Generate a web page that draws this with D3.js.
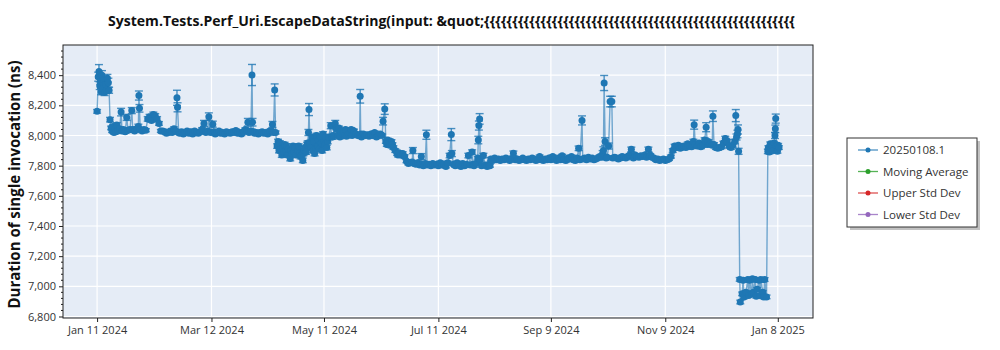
<!DOCTYPE html>
<html><head><meta charset="utf-8">
<script src="https://cdn.jsdelivr.net/npm/d3@7"></script>
<style>
body{margin:0;background:#fff;}
svg{display:block;font-family:"Open Sans","Noto Sans",sans-serif;}
</style>
</head><body>
<svg id="chart" width="1000" height="350"></svg>
<script>
// ---------- data ----------
const chartTitle = "System.Tests.Perf_Uri.EscapeDataString(input: &quot;";
const titleBraces = "{{{{{{{{{{{{{{{{{{{{{{{{{{{{{{{{{{{{{{{{{{{{{{{{{{{{{{{";
const yAxisTitle = "Duration of single invocation (ns)";
const seriesNames = ["20250108.1", "Moving Average", "Upper Std Dev", "Lower Std Dev"];
const seriesColors = ["#1f77b4", "#2ca02c", "#d62728", "#9467bd"];
const xTickDates = ["2024-01-11", "2024-03-12", "2024-05-11", "2024-07-11", "2024-09-09", "2024-11-09", "2025-01-08"];
const xTickLabels = ["Jan 11 2024", "Mar 12 2024", "May 11 2024", "Jul 11 2024", "Sep 9 2024", "Nov 9 2024", "Jan 8 2025"];
const yTickValues = [6800, 7000, 7200, 7400, 7600, 7800, 8000, 8200, 8400];
const startDate = "2024-01-11";

// days after startDate
const runDay = [
  0,0.6,1.0,1.4,1.8,2.2,2.6,3.0,3.5,4.0,4.5,5.0,5.5,6.0,6.4,6.9,
  7.5,8,8.5,9,9.5,10,10.5,11,12,12.8,13.3,14,15,15.8,16.5,17.5,18.5,19,20,21,22,22.3,22.6,23,24,25,26,27,28,29,30,31,32,33,34,
  35,36,37,38,39,40,41,42,42.6,42.9,43.5,44,45,46,47,48,49,50,51,52,53,54,55,56,57,58,59,59.6,60.5,61.7,62.5,
  63,64,65,66,67,68,69,70,71,72,73,74,75,76,77,78,79,80,80.4,81,82,82.6,82.9,
  83.5,84,85,86,87,88,89,90,91,92,93,93.5,94,94.7,95.2,
  96,96.5,97,97.5,98,98.5,99,99.5,100,100.5,101,101.5,102,103,103.5,104,104.5,105,105.5,106,
  107,107.5,108,108.5,109,109.7,110,110.5,111,111.5,112,112.3,112.7,113,
  113.5,114,114.5,115,115.5,116,116.5,117,117.5,118,118.5,119,119.5,120,120.5,121,121.5,122,122.5,123,
  123.5,124.6,125,125.5,126,127,
  127.5,128,128.5,129,129.5,130,131,131.5,132,132.5,133,134,135,135.5,136,137,138,139,
  140,140.3,140.6,141,142,143,144,145,146,147,148,149,150,151,152,152.5,153.4,
  154,154.5,155,155.5,156,157,157.5,158,159,160,160.5,161,162,163,164,
  165,166,167,168,168.4,169,170,171,172,172.9,173.5,174,175,175.6,176,177,178,179,180,181,
  182,183,184,185,186,187,188,188.9,189.2,190,191,192,193,194,195,196,197,198,199,200,
  200.5,201,202,203,203.3,203.6,204,204.3,205,206,207,208,209,209.5,
  210,211,212,213,214,215,216,217,218,219,220,221,222,223,224,225,226,227,228,229,
  230,231,232,233,234,235,236,237,238,239,240,241,242,243,244,245,246,247,248,249,
  250,251,252,253,254,255,256,256.8,257.5,258.6,259,260,261,262,263,264,265,266,267,268,
  269,269.6,270,270.4,270.9,271.5,272,272.8,273.6,274.5,275,276,277,278,279,280,281,282,283,284,
  284.9,285.5,286,287,288,289,290,291,292,293,294,294.5,295,296,297,298,299,300,301,302,
  303,304,305,306,
  307,308,309,310,311,312,313,314,315,316,317,318,318.4,319,320,321,322,323,324,324.8,
  325.5,326,327,328,328.4,329,330,331,332,333,334,335,335.5,336,337,338,339,340,340.6,341,
  341.5,341.8,342.1,
  342.7,343,344,344.5,345,346,347,347.5,348,349,349.5,350,351,351.5,352,353,353.5,354,355,355.5,
  356,357,
  357.7,358,358.5,359,359.5,360,360.5,361,361.5,361.7,361.9,362.3,362.8,363.2,363.6
];
// mean duration (ns)
const duration = [
  8160,8390,8425,8330,8360,8290,8400,8310,8370,8285,8340,8300,8380,8350,8300,8105,
  8050,8030,8060,8020,8040,8025,8070,8030,8045,8155,8030,8040,8025,8120,8035,8040,8165,8040,8030,8045,8060,8265,8180,8040,8030,8040,8035,8110,8125,8100,8140,8130,8110,8080,8030,
  8030,8025,8015,8020,8030,8020,8045,8030,8250,8187,8020,8015,8025,8010,8020,8030,8015,8025,8010,8030,8020,8015,8025,8040,8080,8020,8030,8125,8020,8075,8025,
  8010,8020,8030,8015,8020,8010,8025,8020,8015,8025,8020,8033,8015,8020,8010,8025,8040,8030,8088,8020,8030,8401,8088,
  8025,8015,8020,8010,8020,8025,8015,8020,8010,8030,8030,8073,8020,8302,8020,
  7930,7960,7900,7950,7910,7870,7920,7890,7940,7900,7930,7870,7910,7847,7900,7880,7930,7890,7920,7870,
  7900,7930,7880,7860,7870,7835,7880,7900,7920,7890,7940,7950,8020,8172,
  7950,7920,7990,7900,7960,7880,7920,8000,7930,7970,7910,7990,7950,7900,8010,7960,7940,7990,7920,7960,
  7990,8065,7990,7990,8000,8080,
  8050,8040,8000,8050,7990,8030,8010,8020,8000,8040,7995,8010,8020,8040,8000,8030,8010,8000,
  8000,8260,8010,7990,8010,8000,8005,7995,8010,8000,8020,7990,8000,8010,8000,8095,8175,
  7960,7940,7970,7950,7935,7960,7940,7920,7900,7880,7870,7885,7870,7880,7860,
  7830,7815,7820,7825,7900,7815,7810,7820,7805,7860,7810,7800,7815,8005,7805,7810,7800,7815,7805,7810,
  7800,7820,7805,7810,7795,7820,7867,8006,7880,7810,7800,7820,7805,7795,7815,7800,7810,7867,7805,7890,
  7810,7800,7815,7850,7970,8066,8110,7840,7800,7867,7805,7795,7810,7800,
  7845,7835,7850,7840,7845,7835,7845,7840,7850,7845,7835,7845,7882,7840,7845,7835,7840,7850,7840,7835,
  7845,7840,7850,7845,7835,7840,7860,7840,7835,7845,7840,7850,7840,7860,7845,7835,7850,7840,7865,7840,
  7835,7850,7845,7860,7840,7835,7850,7915,7840,8100,7845,7850,7840,7855,7845,7850,7840,7845,7850,7860,
  7855,7880,7900,8348,7960,7850,7855,7930,8225,8225,7850,7855,7850,7845,7850,7860,7855,7850,7860,7870,
  7908,7865,7850,7870,7860,7855,7865,7860,7870,7855,7908,7860,7870,7855,7850,7840,7845,7835,7840,7845,
  7835,7840,7845,7860,
  7900,7930,7920,7935,7915,7925,7930,7920,7945,7930,7925,7960,8072,7940,7930,7950,7925,7935,7970,8055,
  7940,7960,7945,7935,8128,7940,7920,7915,7920,7925,7950,7980,7965,7960,7930,7920,7935,7960,8132,7990,
  8010,8040,7895,
  7046,6896,6950,7040,6930,6960,7045,6940,7040,6950,7050,6960,7045,6935,6980,7040,6940,7045,6960,6930,
  7045,6930,
  7895,7920,7890,7945,7910,7930,7900,7950,8000,8044,8112,7930,7895,7935,7920
];
// error bar half-height (ns)
const stdErr = [
  12,30,45,25,20,20,30,20,25,20,20,20,25,30,20,15,
  12,10,12,10,10,10,15,10,10,25,10,10,10,20,10,12,20,10,10,10,15,30,25,10,10,10,10,15,15,12,15,15,15,12,10,
  10,10,10,10,10,10,12,10,50,30,10,10,10,10,10,10,10,10,10,10,10,10,10,12,20,10,10,25,10,20,10,
  10,10,10,10,10,10,10,10,10,10,10,10,10,10,10,10,10,10,25,10,10,70,25,
  10,10,10,10,10,10,10,10,10,10,10,20,10,40,10,
  15,15,15,15,15,15,15,15,15,15,15,15,15,15,15,15,15,15,15,15,
  15,15,15,15,15,15,15,15,15,15,15,15,20,40,
  15,15,15,15,15,15,15,15,15,15,15,15,15,15,15,15,15,15,15,15,
  15,20,15,15,15,20,
  12,12,12,12,12,12,12,12,12,12,12,12,12,12,12,12,12,12,
  10,45,10,10,10,10,10,10,10,10,10,10,10,10,10,25,35,
  12,12,12,12,12,12,12,12,12,12,12,12,12,12,12,
  10,10,10,10,20,10,10,10,10,20,10,10,10,30,10,10,10,10,10,10,
  10,10,10,10,10,10,15,40,20,10,10,10,10,10,10,10,10,15,10,15,
  10,10,10,12,25,30,35,10,10,15,10,10,10,10,
  10,10,10,10,10,10,10,10,10,10,10,10,15,10,10,10,10,10,10,10,
  10,10,10,10,10,10,10,10,10,10,10,10,10,10,10,10,10,10,10,10,
  10,10,10,10,10,10,10,15,10,30,10,10,10,10,10,10,10,10,10,10,
  10,20,25,50,25,10,10,20,35,35,10,10,10,10,10,10,10,10,10,10,
  15,10,10,10,10,10,10,10,10,10,15,10,10,10,10,10,10,10,10,10,
  10,10,10,10,
  12,12,12,12,12,12,12,12,12,12,12,15,30,12,12,12,12,12,15,30,
  12,12,12,12,35,12,12,12,12,12,12,15,15,12,12,12,12,15,40,20,
  25,30,20,
  12,12,12,12,12,12,12,12,12,12,12,12,12,12,12,12,12,12,12,12,
  12,12,
  15,12,12,12,12,12,12,12,20,25,30,12,12,12,12
];

// ---------- drawing ----------
const svg = d3.select("#chart");
const P = {left: 63, right: 813, top: 45, bottom: 318};
const DAY = 86400000;
const t0 = Date.parse(startDate + "T00:00:00Z");
const pts = runDay.map((d, i) => ({t: new Date(t0 + d * DAY), v: duration[i], e: stdErr[i] || 10}));
if (runDay.length !== duration.length || runDay.length !== stdErr.length) {
  console.error("length mismatch", runDay.length, duration.length, stdErr.length);
}

const ext = d3.extent(pts, p => +p.t);
const pad = (ext[1] - ext[0]) * 0.05;
const x = d3.scaleUtc().domain([new Date(ext[0] - pad), new Date(ext[1] + pad)]).range([P.left, P.right]);
const y = d3.scaleLinear().domain([6790, 8600]).range([P.bottom, P.top]);

const xTicks = xTickDates.map(s => new Date(s + "T00:00:00Z"));

// background
svg.append("rect").attr("x", P.left).attr("y", P.top).attr("width", P.right - P.left).attr("height", P.bottom - P.top).attr("fill", "#e5ecf6");

// grid
const grid = svg.append("g");
grid.selectAll(".gy").data(yTickValues).join("line")
  .attr("x1", P.left).attr("x2", P.right).attr("y1", d => y(d)).attr("y2", d => y(d))
  .attr("stroke", "#fff").attr("stroke-width", 1.2);
grid.selectAll(".gx").data(xTicks).join("line")
  .attr("y1", P.top).attr("y2", P.bottom).attr("x1", d => x(d)).attr("x2", d => x(d))
  .attr("stroke", "#fff").attr("stroke-width", 1.2);

// clip
svg.append("clipPath").attr("id", "clip").append("rect")
  .attr("x", P.left).attr("y", P.top).attr("width", P.right - P.left).attr("height", P.bottom - P.top);
const plot = svg.append("g").attr("clip-path", "url(#clip)");
const col = seriesColors[0];

// line
plot.append("path").datum(pts)
  .attr("d", d3.line().x(p => x(p.t)).y(p => y(p.v)))
  .attr("fill", "none").attr("stroke", col).attr("stroke-width", 1.4).attr("stroke-opacity", 0.6);

// error bars
const eb = plot.append("g").attr("stroke", col).attr("stroke-width", 1.4).attr("stroke-opacity", 0.8);
eb.selectAll(".v").data(pts).join("line")
  .attr("x1", p => x(p.t)).attr("x2", p => x(p.t))
  .attr("y1", p => y(p.v - p.e)).attr("y2", p => y(p.v + p.e));
eb.selectAll(".ct").data(pts).join("line")
  .attr("x1", p => x(p.t) - 4).attr("x2", p => x(p.t) + 4)
  .attr("y1", p => y(p.v + p.e)).attr("y2", p => y(p.v + p.e));
eb.selectAll(".cb").data(pts).join("line")
  .attr("x1", p => x(p.t) - 4).attr("x2", p => x(p.t) + 4)
  .attr("y1", p => y(p.v - p.e)).attr("y2", p => y(p.v - p.e));

// markers
plot.append("g").selectAll("circle").data(pts).join("circle")
  .attr("cx", p => x(p.t)).attr("cy", p => y(p.v)).attr("r", 3.5)
  .attr("fill", col);

// frame
svg.append("rect").attr("x", P.left).attr("y", P.top).attr("width", P.right - P.left).attr("height", P.bottom - P.top)
  .attr("fill", "none").attr("stroke", "#222").attr("stroke-width", 1);

// y axis
const ya = svg.append("g").attr("transform", `translate(${P.left},0)`)
  .call(d3.axisLeft(y).tickValues(yTickValues).tickFormat(d3.format(",")).tickSize(4).tickPadding(3));
ya.select(".domain").remove();
ya.selectAll("text").attr("font-size", 11).attr("fill", "#333").attr("font-family", "Open Sans");
ya.selectAll(".tick line").attr("stroke", "#222");
const minor = d3.range(6800, 8600, 40).filter(v => v % 200 !== 0);
svg.append("g").selectAll("line").data(minor).join("line")
  .attr("x1", P.left - 2).attr("x2", P.left).attr("y1", d => y(d)).attr("y2", d => y(d))
  .attr("stroke", "#222");

// x axis
const xa = svg.append("g").attr("transform", `translate(0,${P.bottom})`)
  .call(d3.axisBottom(x).tickValues(xTicks).tickFormat((d, i) => xTickLabels[i]).tickSize(4).tickPadding(4));
xa.select(".domain").remove();
xa.selectAll("text").attr("font-size", 11).attr("fill", "#333").attr("font-family", "Open Sans");
xa.selectAll(".tick line").attr("stroke", "#222");

// y title
svg.append("text")
  .attr("transform", `translate(20,${(P.top + P.bottom) / 2 + 3}) rotate(-90)`)
  .attr("text-anchor", "middle").attr("font-size", 16).attr("font-weight", "bold").attr("fill", "#111")
  .attr("textLength", 248).attr("lengthAdjust", "spacingAndGlyphs")
  .text(yAxisTitle);

// title
const tt = svg.append("text").attr("x", 108).attr("y", 26).attr("font-size", 15).attr("font-weight", "bold").attr("fill", "#111");
tt.append("tspan").attr("textLength", 376).attr("lengthAdjust", "spacingAndGlyphs").text(chartTitle);
tt.append("tspan").attr("textLength", 311).attr("lengthAdjust", "spacingAndGlyphs").text(titleBraces);

// legend
const L = {x: 847, y: 138, w: 130, h: 89};
svg.append("rect").attr("x", L.x + 3).attr("y", L.y + 3).attr("width", L.w).attr("height", L.h).attr("fill", "#999").attr("opacity", 0.6);
svg.append("rect").attr("x", L.x).attr("y", L.y).attr("width", L.w).attr("height", L.h).attr("fill", "#fff").attr("stroke", "#333").attr("stroke-width", 1);
const lg = svg.append("g").selectAll("g").data(seriesNames).join("g")
  .attr("transform", (d, i) => `translate(${L.x},${150 + i * 21.5})`);
lg.append("line").attr("x1", 11).attr("x2", 31).attr("y1", 0).attr("y2", 0)
  .attr("stroke", (d, i) => seriesColors[i]).attr("stroke-width", 1.3).attr("stroke-opacity", 0.8);
lg.append("circle").attr("cx", 21).attr("cy", 0).attr("r", 2.5).attr("fill", (d, i) => seriesColors[i]);
lg.append("text").attr("x", 36).attr("y", 4).attr("font-size", 11.5).attr("fill", "#333").text(d => d);
</script>
</body></html>
